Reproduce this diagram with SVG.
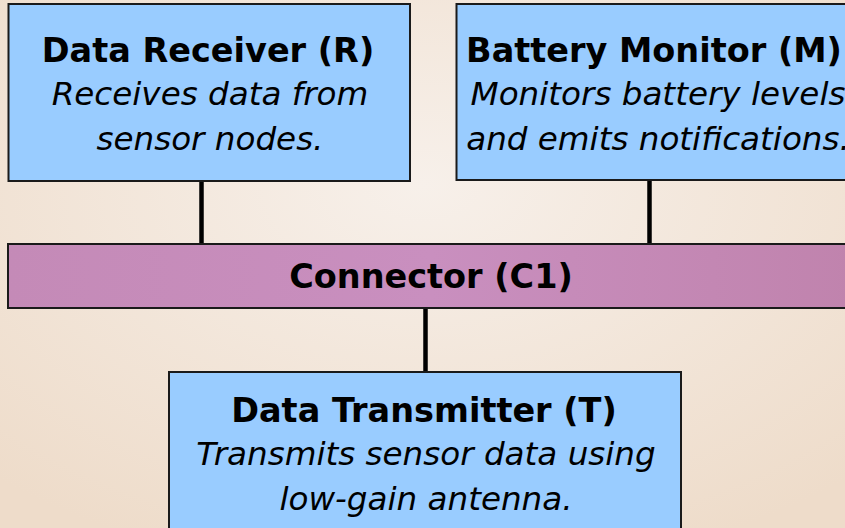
<svg xmlns="http://www.w3.org/2000/svg" width="845" height="528" viewBox="0 0 845 528">
<defs>
<radialGradient id="bg" cx="0.5" cy="0.35" r="0.75">
<stop offset="0" stop-color="#F7F0EA"/>
<stop offset="1" stop-color="#EEDCCA"/>
</radialGradient>
<linearGradient id="conn" x1="0" y1="0" x2="1" y2="0">
<stop offset="0" stop-color="#C48AB7"/>
<stop offset="0.5" stop-color="#C98FBF"/>
<stop offset="1" stop-color="#C083AD"/>
</linearGradient>
<style>
.box{fill:#99CCFF;stroke:#1A1A1A;stroke-width:2}
.bar{fill:url(#conn);stroke:#1A1A1A;stroke-width:2}
.title{font-family:"DejaVu Sans",Verdana,sans-serif;font-weight:bold;font-size:33.5px;fill:#000;text-anchor:middle}
.desc{font-family:"DejaVu Sans",Verdana,sans-serif;font-style:italic;font-size:32.6px;fill:#000;text-anchor:middle}
.wire{stroke:#000;stroke-width:4.5;fill:none}
</style>
</defs>
<rect x="0" y="0" width="845" height="528" fill="url(#bg)"/>
<g id="connectors">
<line class="wire" x1="201.5" y1="181" x2="201.5" y2="244"/>
<line class="wire" x1="649.5" y1="181" x2="649.5" y2="244"/>
<line class="wire" x1="425.5" y1="308" x2="425.5" y2="372"/>
</g>
<g id="node-R">
<rect class="box" x="8.5" y="4" width="401.5" height="177"/>
<text class="title" x="208" y="62">Data Receiver (R)</text>
<text class="desc" x="210" y="105">Receives data from</text>
<text class="desc" x="210" y="150">sensor nodes.</text>
</g>
<g id="node-M">
<rect class="box" x="456.5" y="4" width="400" height="176"/>
<text class="title" x="654" y="62">Battery Monitor (M)</text>
<text class="desc" x="658" y="105">Monitors battery levels</text>
<text class="desc" x="658" y="150">and emits notifications.</text>
</g>
<g id="node-C1">
<rect class="bar" x="8" y="244" width="846" height="64"/>
<text class="title" x="431" y="288">Connector (C1)</text>
</g>
<g id="node-T">
<rect class="box" x="169" y="372" width="512" height="170"/>
<text class="title" x="424" y="422">Data Transmitter (T)</text>
<text class="desc" x="426" y="465">Transmits sensor data using</text>
<text class="desc" x="426" y="510">low-gain antenna.</text>
</g>
</svg>
